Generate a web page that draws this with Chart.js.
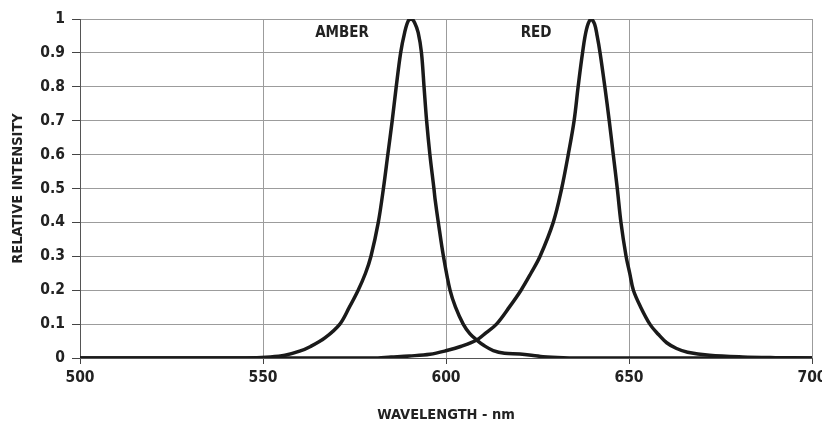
<!doctype html>
<html lang="en">
<head>
<meta charset="utf-8">
<title>LED spectrum</title>
<script src="https://cdn.jsdelivr.net/npm/chart.js"></script>
<style>
  html, body { margin: 0; padding: 0; background: #fff; }
  #wrap { width: 822px; height: 422px; }
</style>
</head>
<body>
<div id="wrap"><canvas id="spectrum" width="822" height="422"></canvas></div>
<script>
// wavelength (nm) / relative intensity
var amberNm  = [500, 545, 552, 556, 560, 563, 567, 571, 573.6, 576.0, 578.0, 579.5, 581.5, 582.9, 584.1, 585.3, 586.4, 587.6, 588.7, 589.7, 590.6,
                591.4, 592.4, 593.3, 594.0, 594.7, 595.6, 596.7, 597.0, 597.9, 599.3, 601.1, 602.6, 604.7, 606.5, 608.4, 610.5, 612.9, 616, 620.2, 626.5, 632, 640, 700];
var amberVal = [0, 0, 0.003, 0.008, 0.02, 0.034, 0.06, 0.1, 0.15, 0.2, 0.25, 0.3, 0.4, 0.5, 0.6, 0.7, 0.8, 0.9, 0.96, 0.995, 1.0,
                0.99, 0.96, 0.9, 0.8, 0.7, 0.6, 0.5, 0.47, 0.4, 0.3, 0.2, 0.15, 0.1, 0.072, 0.053, 0.036, 0.022, 0.014, 0.012, 0.004, 0.001, 0, 0];

var redNm  = [500, 580, 585, 590, 595.6, 600.2, 604, 608.4, 611, 613.8, 617.3, 620.5, 623.2, 625.7, 629.3, 631.6, 633.4, 635, 636.1, 637.3, 638.4, 639.6,
              640.6, 641.3, 642.1, 643.4, 644.6, 645.7, 646.8, 647.8, 649.2, 650.2, 651.2, 653.2, 655.7, 658, 660.3, 663, 666, 672, 681, 690, 700];
var redVal = [0, 0, 0.003, 0.006, 0.011, 0.022, 0.034, 0.053, 0.075, 0.1, 0.15, 0.2, 0.25, 0.3, 0.4, 0.5, 0.6, 0.7, 0.8, 0.9, 0.97, 1.0,
              0.985, 0.95, 0.9, 0.8, 0.7, 0.6, 0.5, 0.4, 0.3, 0.25, 0.2, 0.15, 0.1, 0.07, 0.045, 0.028, 0.017, 0.008, 0.003, 0.001, 0];

var seriesNames = ['AMBER', 'RED'];
var labelNm  = [571.6, 624.6];   // where the curve names sit
var labelVal = [0.958, 0.958];

var xTicks = [500, 550, 600, 650, 700];
var yTicks = [0, 0.1, 0.2, 0.3, 0.4, 0.5, 0.6, 0.7, 0.8, 0.9, 1];

var fontFam = '"DejaVu Sans Condensed", "Liberation Sans Narrow", sans-serif';

function pts(xs, ys) {
  return xs.map(function (x, i) { return { x: x, y: ys[i] }; });
}

// writes AMBER / RED above the peaks
var curveNames = {
  id: 'curveNames',
  afterDatasetsDraw: function (chart) {
    var c = chart.ctx, xs = chart.scales.x, ys = chart.scales.y;
    c.save();
    c.font = 'bold 15px ' + fontFam;
    c.fillStyle = '#222';
    c.textAlign = 'center';
    c.textBaseline = 'middle';
    seriesNames.forEach(function (n, i) {
      c.fillText(n, xs.getPixelForValue(labelNm[i]), ys.getPixelForValue(labelVal[i]));
    });
    c.restore();
  }
};

var lineStyle = {
  borderColor: '#1a1a1a',
  borderWidth: 3.5,
  pointRadius: 0,
  fill: false,
  tension: 0.35
};

new Chart(document.getElementById('spectrum').getContext('2d'), {
  type: 'line',
  data: {
    datasets: [
      Object.assign({ label: seriesNames[0], data: pts(amberNm, amberVal) }, lineStyle),
      Object.assign({ label: seriesNames[1], data: pts(redNm, redVal) }, lineStyle)
    ]
  },
  plugins: [curveNames],
  options: {
    responsive: false,
    animation: false,
    events: [],
    layout: { padding: { left: 11, right: 10, top: 19, bottom: 0 } },
    plugins: { legend: { display: false }, tooltip: { enabled: false } },
    scales: {
      x: {
        type: 'linear',
        min: 500, max: 700,
        afterBuildTicks: function (s) { s.ticks = xTicks.map(function (v) { return { value: v }; }); },
        afterFit: function (s) { s.height = 64; s.paddingLeft = 0; s.paddingRight = 0; },
        grid: { color: '#9c9c9c', lineWidth: 1, tickLength: 6, tickColor: '#444' },
        border: { color: '#555', width: 1 },
        ticks: { color: '#222', padding: 5, maxRotation: 0, font: { family: fontFam, size: 15.5, weight: 'bold' } },
        title: { display: true, text: 'WAVELENGTH - nm', color: '#222', padding: 0,
                 font: { family: fontFam, size: 14.5, weight: 'bold', lineHeight: 1 } }
      },
      y: {
        min: 0, max: 1,
        afterBuildTicks: function (s) { s.ticks = yTicks.map(function (v) { return { value: v }; }); },
        afterFit: function (s) { s.width = 69; },
        grid: { color: '#9c9c9c', lineWidth: 1, tickLength: 8, tickColor: '#444' },
        border: { color: '#555', width: 1 },
        ticks: { color: '#222', padding: 7, font: { family: fontFam, size: 15.5, weight: 'bold' },
                 callback: function (v) { return String(v); } },
        title: { display: true, text: 'RELATIVE INTENSITY', color: '#222', padding: 0,
                 font: { family: fontFam, size: 14.5, weight: 'bold', lineHeight: 1 } }
      }
    }
  }
});
</script>
</body>
</html>
